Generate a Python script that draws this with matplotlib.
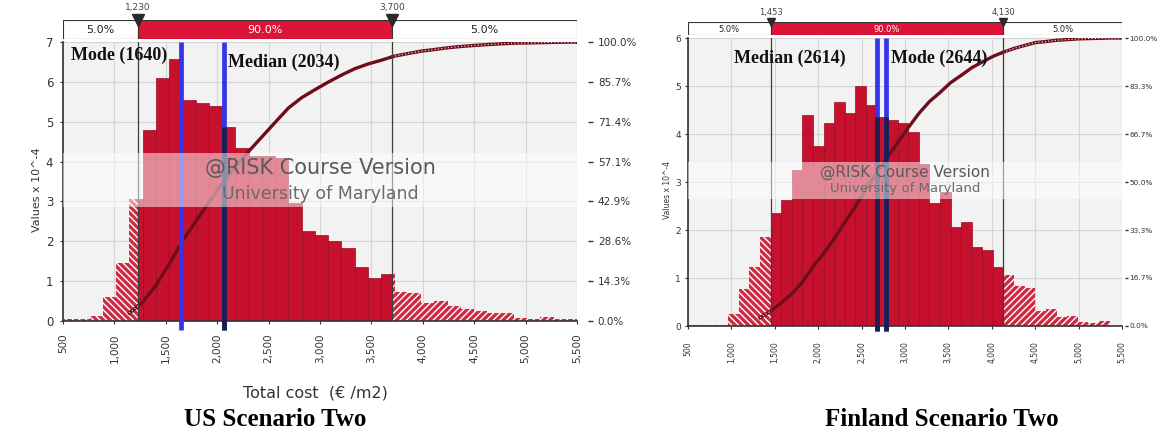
import numpy as np
import matplotlib.pyplot as plt

plt.rcParams["hatch.linewidth"] = 1.0

# ---------------------------------------------------------------------------
# Data read from the two @RISK histograms (Values x 10^-4)
# ---------------------------------------------------------------------------

us_bin_start = 500
us_bin_width = 129
us_density = [0.04, 0.05, 0.12, 0.60, 1.45, 3.07, 4.80, 6.10, 6.57, 5.55,
              5.48, 5.40, 4.87, 4.33, 4.15, 4.15, 4.10, 2.95, 2.27, 2.17,
              2.00, 1.82, 1.35, 1.08, 1.17, 0.72, 0.70, 0.46, 0.50, 0.37,
              0.29, 0.25, 0.21, 0.19, 0.08, 0.06, 0.10, 0.06, 0.04]
us_p5, us_p95 = 1230, 3700
us_line_x = [1645, 2066]
us_line_dark = [False, True]
us_labels = ["Mode (1640)", "Median (2034)"]
us_yticks = [0, 1, 2, 3, 4, 5, 6, 7]

fi_bin_start = 476
fi_bin_width = 122
fi_density = [0.02, 0.03, 0.03, 0.03, 0.25, 0.78, 1.22, 1.86, 2.36, 2.63,
              3.25, 4.39, 3.74, 4.22, 4.66, 4.43, 5.00, 4.60, 4.35, 4.30,
              4.22, 4.05, 3.38, 2.57, 2.80, 2.07, 2.17, 1.64, 1.58, 1.22,
              1.06, 0.83, 0.80, 0.31, 0.35, 0.19, 0.21, 0.09, 0.06, 0.10]
fi_p5, fi_p95 = 1453, 4130
fi_line_x = [2680, 2778]
fi_line_dark = [True, True]
fi_labels = ["Median (2614)", "Mode (2644)"]
fi_yticks = [0, 1, 2, 3, 4, 5, 6]

x_ticks = list(range(500, 5501, 500))
tail_pct = ["5.0%", "90.0%", "5.0%"]

RED = "#c5112e"
RED_EDGE = "#970b20"
CURVE = "#6e0d1c"
BLUE = "#3434ea"
NAVY = "#1c1c4e"
W, H = 1160, 433


def fig_rect(x0, y0, x1, y1):
    """pixel box (top-left origin) -> figure fraction rect"""
    return [x0 / W, 1 - y1 / H, (x1 - x0) / W, (y1 - y0) / H]


def split_bins(edges, heights, p5, p95):
    segs = []
    for lo, hi, h in zip(edges[:-1], edges[1:], heights):
        cuts = [lo] + [c for c in (p5, p95) if lo < c < hi] + [hi]
        for a, b in zip(cuts[:-1], cuts[1:]):
            m = (a + b) / 2
            zone = "low" if m < p5 else ("high" if m > p95 else "mid")
            segs.append((a, b - a, h, zone))
    return segs


def draw_panel(fig, main_px, box_px, start, width, dens, p5, p95,
               line_x, line_dark, yticks, band, fs):
    dens = np.asarray(dens)
    edges = start + width * np.arange(len(dens) + 1)
    ymax = yticks[-1]

    ax = fig.add_axes(fig_rect(*main_px))
    ax.set_facecolor("#f2f2f2")
    ax.set_xlim(500, 5500)
    ax.set_ylim(0, ymax)
    ax.set_axisbelow(True)
    ax.grid(True, color="#d4d4d4", lw=0.8)

    for a, w, h, zone in split_bins(edges, dens, p5, p95):
        if zone == "mid":
            ax.bar(a, h, width=w, align="edge", facecolor=RED,
                   edgecolor=RED_EDGE, linewidth=0.5, zorder=2)
        else:
            ax.bar(a, h, width=w, align="edge", facecolor="#cf2a44",
                   edgecolor="white", linewidth=0,
                   hatch="\\\\\\\\\\" if zone == "low" else "/////", zorder=2)

    # cumulative curve scaled onto the density axis
    cdf = np.concatenate([[0], np.cumsum(dens)]) / dens.sum()
    inner = edges[(edges > p5) & (edges < p95)]
    xm = np.concatenate([[p5], inner, [p95]])
    ax.plot(xm, np.interp(xm, edges, cdf) * ymax, color=CURVE, lw=2.4,
            solid_capstyle="butt", zorder=3)
    for seg in (edges[edges <= p5].tolist() + [p5],
                [p95] + edges[edges >= p95].tolist() + [5500]):
        xs = np.asarray(seg, dtype=float)
        ys = np.interp(xs, edges, cdf) * ymax
        if xs[0] < p5:
            ys = np.where(ys < 0.02 * ymax, np.nan, ys)
        ax.plot(xs, ys, color=CURVE, lw=2.4, zorder=3)
        ax.plot(xs, ys, color="white", lw=0.8, dashes=(1, 2), zorder=3)

    for px in (p5, p95):
        ax.axvline(px, color="#3c3c3c", lw=0.9, zorder=3.5)

    # mode / median markers reach a little below the axis
    for xv, dark in zip(line_x, line_dark):
        ax.plot([xv, xv], [-fs["drop"], ymax], color=BLUE, lw=3.4,
                solid_capstyle="butt", clip_on=False, zorder=4)
        if dark:
            hgt = dens[int((xv - start) // width)]
            ax.plot([xv, xv], [-fs["drop"], hgt], color=NAVY, lw=3.4,
                    solid_capstyle="butt", clip_on=False, zorder=4.2)

    # watermark band
    ax.axhspan(band[0], band[1], color="white", alpha=0.5, lw=0, zorder=5)
    ax.text(0.5, band[2], "@RISK Course Version", transform=ax.transAxes,
            ha="center", va="center", fontsize=fs["wm1"], color="#5a5a5a",
            zorder=6)
    ax.text(0.5, band[3], "University of Maryland", transform=ax.transAxes,
            ha="center", va="center", fontsize=fs["wm2"], color="#6a6a6a",
            zorder=6)

    ax.set_xticks(x_ticks)
    ax.set_xticklabels([f"{v:,}" for v in x_ticks], rotation=90,
                       fontsize=fs["xt"], color="#333333")
    ax.set_yticks(yticks)
    ax.set_yticklabels([str(v) for v in yticks], fontsize=fs["yt"],
                       color="#333333")
    ax.tick_params(axis="both", length=2.5, width=0.8, color="#333333")
    ax.tick_params(axis="x", pad=fs["xpad"])
    ax.tick_params(axis="y", pad=fs["ypad"])
    for side in ("top", "right"):
        ax.spines[side].set_visible(False)
    for side in ("left", "bottom"):
        ax.spines[side].set_color("#333333")
        ax.spines[side].set_linewidth(1.2)

    # cumulative percentage scale on the right
    ax2 = ax.twinx()
    ax2.spines["right"].set_position(("outward", fs["roff"]))
    for s in ax2.spines.values():
        s.set_visible(False)
    ax2.set_ylim(0, 1)
    pct = np.linspace(0, 1, len(yticks))
    ax2.set_yticks(pct)
    ax2.set_yticklabels([f"{v * 100:.1f}%" for v in pct])
    ax2.tick_params(axis="y", length=fs["rlen"], width=1, color="#333333",
                    pad=fs["rpad"], labelsize=fs["pt"], labelcolor="#333333")

    # percentile strip above the plot
    axb = fig.add_axes(fig_rect(*box_px))
    axb.set_xlim(500, 5500)
    axb.set_ylim(0, 1)
    axb.barh([0.5] * 3, [p5 - 500, p95 - p5, 5500 - p95],
             left=[500, p5, p95], height=1,
             color=["white", "#dc1438", "white"], edgecolor="#333333", lw=0.8)
    mids = [(500 + p5) / 2, (p5 + p95) / 2, (p95 + 5500) / 2]
    for mx, txt, col in zip(mids, tail_pct, ["#222222", "white", "#222222"]):
        axb.text(mx, 0.45, txt, ha="center", va="center", fontsize=fs["box"],
                 color=col)
    axb.plot([p5, p95], [1.0, 1.0], ls="none", marker="v", ms=fs["tri"],
             color="#2a2a2a", clip_on=False)
    for px in (p5, p95):
        axb.text(px, fs["top_y"], f"{px:,}", ha="center", va="bottom",
                 fontsize=fs["top"], color="#444444", clip_on=False)
    axb.set_axis_off()
    return ax


fig = plt.figure(figsize=(W / 100, H / 100), dpi=100)

us_fs = dict(wm1=15, wm2=12.5, xt=7.5, yt=8.5, pt=7.5, xpad=6.5, ypad=4.5,
             roff=8, rlen=3.5, rpad=3.5, box=8, tri=8, top=6.5, top_y=1.4,
             drop=0.23)
draw_panel(fig, (63, 42, 577, 321), (63, 20, 577, 39), us_bin_start,
           us_bin_width, us_density, us_p5, us_p95, us_line_x, us_line_dark,
           us_yticks, (2.86, 4.21, 0.548, 0.455), us_fs)

fi_fs = dict(wm1=11, wm2=9.5, xt=5.5, yt=6.5, pt=5.3, xpad=8.5, ypad=2.5,
             roff=2, rlen=2, rpad=1.5, box=6, tri=6, top=6, top_y=1.35,
             drop=0.1)
draw_panel(fig, (688, 38, 1122, 326), (688, 22, 1122, 35), fi_bin_start,
           fi_bin_width, fi_density, fi_p5, fi_p95, fi_line_x, fi_line_dark,
           fi_yticks, (2.65, 3.42, 0.535, 0.476), fi_fs)

serif = "Liberation Serif"
label_px = [(71, 55, us_labels[0]), (228, 62, us_labels[1]),
            (734, 58, fi_labels[0]), (891, 58, fi_labels[1])]
for x, y, txt in label_px:
    fig.text(x / W, 1 - y / H, txt, family=serif, weight="bold",
             fontsize=13, ha="left", va="center", color="#111111")

fig.text(37 / W, 1 - 190 / H, "Values x 10^-4", rotation=90, fontsize=8,
         ha="center", va="center", color="#333333")
fig.text(667 / W, 1 - 190 / H, "Values x 10^-4", rotation=90, fontsize=5.5,
         ha="center", va="center", color="#333333")
fig.text(315 / W, 1 - 393 / H, "Total cost  (\u20ac /m2)", fontsize=11.5,
         ha="center", va="center", color="#333333")

fig.text(275 / W, 1 - 420 / H, "US Scenario Two", family=serif,
         weight="bold", fontsize=18, ha="center", va="center")
fig.text(942 / W, 1 - 420 / H, "Finland Scenario Two", family=serif,
         weight="bold", fontsize=18, ha="center", va="center")

fig.savefig("out.png", dpi=100)
